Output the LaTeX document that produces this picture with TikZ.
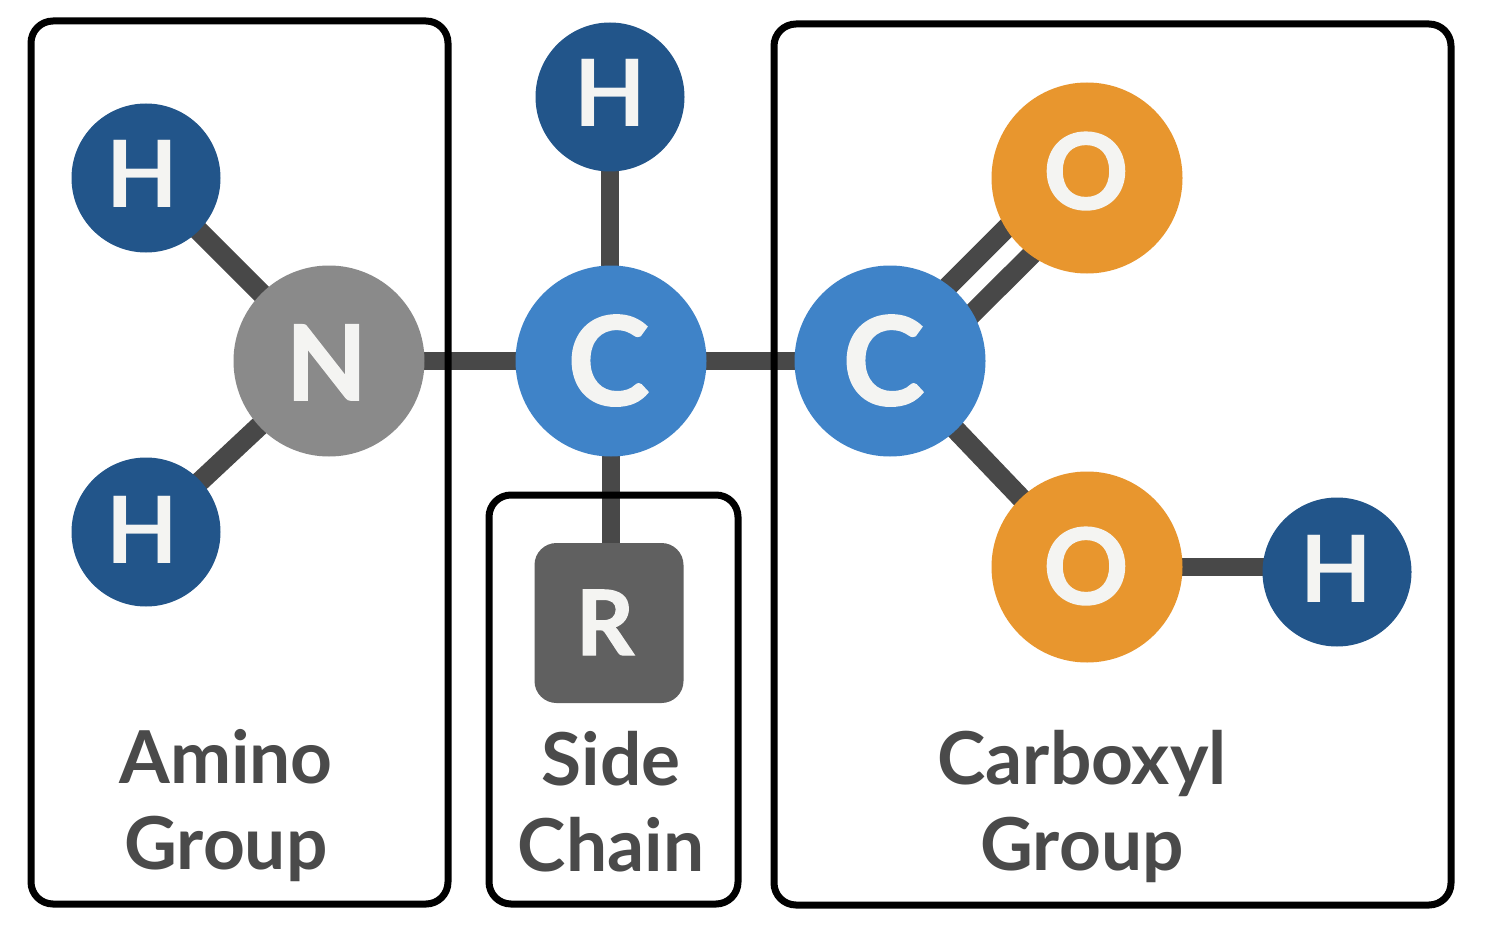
\documentclass[tikz,border=0pt]{standalone}
\usepackage{fontspec}
\setmainfont{Lato}
\newfontfamily\heavyfont[FakeBold=1.6]{Lato}
\definecolor{hblue}{HTML}{22558A}
\definecolor{cblue}{HTML}{3F83C8}
\definecolor{ngray}{HTML}{8A8A8A}
\definecolor{oorange}{HTML}{E8962E}
\definecolor{rgray}{HTML}{606060}
\definecolor{bond}{HTML}{484848}
\definecolor{labelc}{HTML}{4A4A4A}
\definecolor{letter}{HTML}{F4F4F2}
\newcommand{\placed}[3]{\raisebox{#2pt}[0pt][0pt]{\makebox[0pt][c]{\hspace*{#1pt}#3\hspace*{-#1pt}}}}
\pgfdeclarelayer{paper}
\pgfdeclarelayer{bonds}
\pgfsetlayers{paper,bonds,main}
\begin{document}
\begin{tikzpicture}[x=1pt,y=-1pt,
  groupbox/.style={draw=black,line width=7pt,rounded corners=22pt},
  atom/.style={circle,inner sep=0pt,text=letter},
  hatom/.style={atom,fill=hblue,minimum size=149pt,font=\fontsize{93}{93}\selectfont\bfseries},
  catom/.style={atom,fill=cblue,minimum size=191pt,font=\heavyfont\bfseries\fontsize{123}{123}\selectfont},
  natom/.style={atom,fill=ngray,minimum size=191pt,font=\heavyfont\bfseries\fontsize{104}{104}\selectfont},
  oatom/.style={atom,fill=oorange,minimum size=191pt,font=\heavyfont\bfseries\fontsize{105}{105}\selectfont},
  rbox/.style={rectangle,rounded corners=22pt,fill=rgray,inner sep=0pt,minimum width=149pt,minimum height=160pt,text=letter,font=\heavyfont\bfseries\fontsize{90}{90}\selectfont},
  bondline/.style={draw=bond,line width=18pt},
  diagbond/.style={draw=bond,line width=20pt},
  grouplabel/.style={text=labelc,align=center,font=\fontsize{73}{86}\selectfont\bfseries,inner sep=0pt}]
\useasboundingbox (0,0) rectangle (1496,928);
\begin{pgfonlayer}{paper}
\fill[white] (0,0) rectangle (1496,928);
\end{pgfonlayer}
\node[hatom] (h1) at (146,178) {\placed{-4}{-30}{H}};
\node[hatom] (h2) at (146,532) {\placed{-4}{-31}{H}};
\node[natom] (n) at (329,361) {\placed{-2.5}{-39}{N}};
\node[hatom] (h3) at (610,97) {\placed{0}{-30}{H}};
\node[catom] (c1) at (611,361) {\placed{-2.5}{-44}{C}};
\node[catom] (c2) at (890,361) {\placed{-6.5}{-44}{C}};
\node[rbox] (r) at (609,623) {\placed{-4}{-32}{R}};
\node[oatom] (o1) at (1087,178) {\placed{-1}{-31}{O}};
\node[oatom] (o2) at (1087,567) {\placed{-1}{-37}{O}};
\node[hatom] (h4) at (1337,572) {\placed{-0.5}{-30}{H}};
\begin{pgfonlayer}{bonds}
\draw[diagbond] (h1.center) -- (n.center);
\draw[diagbond] (h2.center) -- (n.center);
\draw[bondline] (n.center) -- (c1.center);
\draw[bondline] (h3.center) -- (h3.center |- c1.center);
\draw[bondline] (c1.center) -- (c1.center |- r.center);
\draw[bondline] (c1.center) -- (c2.center);
\draw[diagbond] (c2.center) -- (o2.center);
\draw[bondline] (o2.center) -- (h4.center |- o2.center);
\draw[diagbond,shorten <=-8pt,shorten >=-8pt] (c2.52.6) -- (o1.212);
\draw[diagbond,shorten <=-8pt,shorten >=-8pt] (c2.30) -- (o1.234);
\end{pgfonlayer}
\draw[groupbox] (31,21) rectangle (448,904);
\draw[groupbox] (489,495) rectangle (738,904);
\draw[groupbox] (774,24) rectangle (1451,905);
\node[grouplabel] (l1) at (226,806) {Amino\\Group};
\node[grouplabel] (l2) at (611,802) {Side\\Chain};
\node[grouplabel] (l3) at (1082,806) {Carboxyl\\Group};
\end{tikzpicture}
\end{document}
